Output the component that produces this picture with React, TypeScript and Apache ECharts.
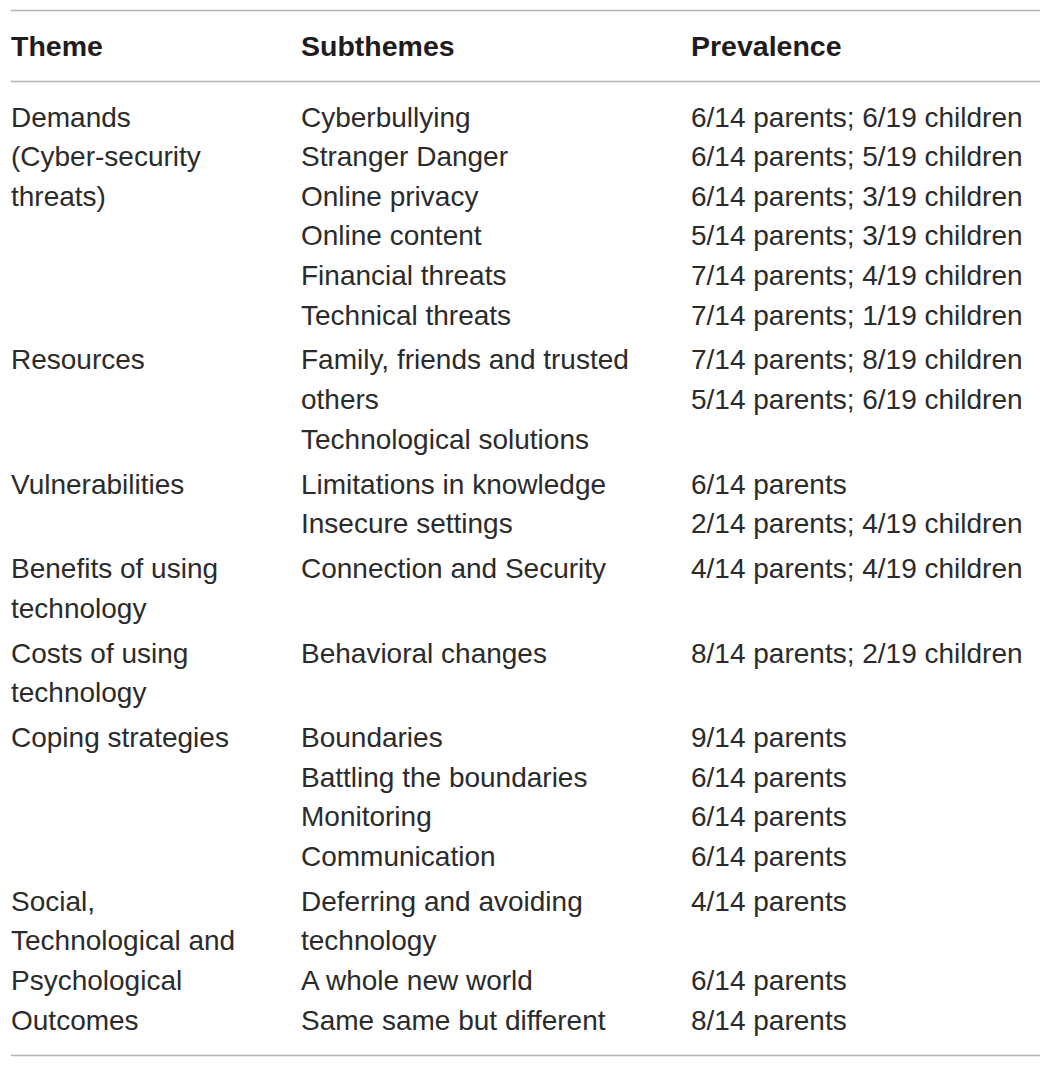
import React, { useEffect, useRef } from "react";
import * as echarts from "echarts";

const headers = ["Theme", "Subthemes", "Prevalence"];

const themes = [
  ["Demands", "(Cyber-security", "threats)"],
  ["Resources"],
  ["Vulnerabilities"],
  ["Benefits of using", "technology"],
  ["Costs of using", "technology"],
  ["Coping strategies"],
  ["Social,", "Technological and", "Psychological", "Outcomes"],
];

const subthemes = [
  ["Cyberbullying", "Stranger Danger", "Online privacy", "Online content", "Financial threats", "Technical threats"],
  ["Family, friends and trusted", "others", "Technological solutions"],
  ["Limitations in knowledge", "Insecure settings"],
  ["Connection and Security"],
  ["Behavioral changes"],
  ["Boundaries", "Battling the boundaries", "Monitoring", "Communication"],
  ["Deferring and avoiding", "technology", "A whole new world", "Same same but different"],
];

const prevalence = [
  [
    "6/14 parents; 6/19 children",
    "6/14 parents; 5/19 children",
    "6/14 parents; 3/19 children",
    "5/14 parents; 3/19 children",
    "7/14 parents; 4/19 children",
    "7/14 parents; 1/19 children",
  ],
  ["7/14 parents; 8/19 children", "5/14 parents; 6/19 children"],
  ["6/14 parents", "2/14 parents; 4/19 children"],
  ["4/14 parents; 4/19 children"],
  ["8/14 parents; 2/19 children"],
  ["9/14 parents", "6/14 parents", "6/14 parents", "6/14 parents"],
  ["4/14 parents", "", "6/14 parents", "8/14 parents"],
];

const W = 1051;
const H = 1067;
const colX = [11, 301, 691];
const lineLeft = 11;
const lineRight = 1040;
const firstRowY = 117;
const rowH = 39.6;
const groupGap = 5.3;
const FONT = "'Liberation Sans', Arial, Helvetica, sans-serif";
const FS = 28;
const HFS = 28.5;
const TEXT_COLOR = "#2b2b2b";
const HEAD_COLOR = "#1f1c1d";
const RULE_COLOR = "#b4b4b4";

function buildGraphics() {
  const els: any[] = [];
  const rule = (y: number) => ({
    type: "line",
    shape: { x1: lineLeft, y1: y, x2: lineRight, y2: y },
    style: { stroke: RULE_COLOR, lineWidth: 1.3 },
  });
  els.push(rule(10.5));
  els.push(rule(81.5));
  els.push(rule(1055.5));
  headers.forEach((h, i) => {
    els.push({
      type: "text",
      x: colX[i],
      y: 46,
      style: {
        text: h,
        font: `bold ${HFS}px ${FONT}`,
        fill: HEAD_COLOR,
        textVerticalAlign: "middle",
        textAlign: "left",
      },
    });
  });
  let y = firstRowY;
  themes.forEach((t, g) => {
    const cols = [t, subthemes[g], prevalence[g]];
    const rows = Math.max(t.length, subthemes[g].length, prevalence[g].length);
    cols.forEach((lines, c) => {
      lines.forEach((txt, r) => {
        if (!txt) return;
        els.push({
          type: "text",
          x: colX[c],
          y: y + r * rowH,
          style: {
            text: txt,
            font: `${FS}px ${FONT}`,
            fill: TEXT_COLOR,
            textVerticalAlign: "middle",
            textAlign: "left",
          },
        });
      });
    });
    y += rows * rowH + groupGap;
  });
  return els;
}

export default function App() {
  const ref = useRef<HTMLDivElement>(null);
  useEffect(() => {
    if (!ref.current) return;
    const chart = echarts.init(ref.current, null, { renderer: "svg", width: W, height: H });
    chart.setOption({
      animation: false,
      backgroundColor: "#ffffff",
      graphic: buildGraphics(),
    });
    return () => chart.dispose();
  }, []);
  return (
    <div
      ref={ref}
      style={{ position: "absolute", left: 0, top: 0, width: W, height: H, background: "#fff" }}
    />
  );
}
